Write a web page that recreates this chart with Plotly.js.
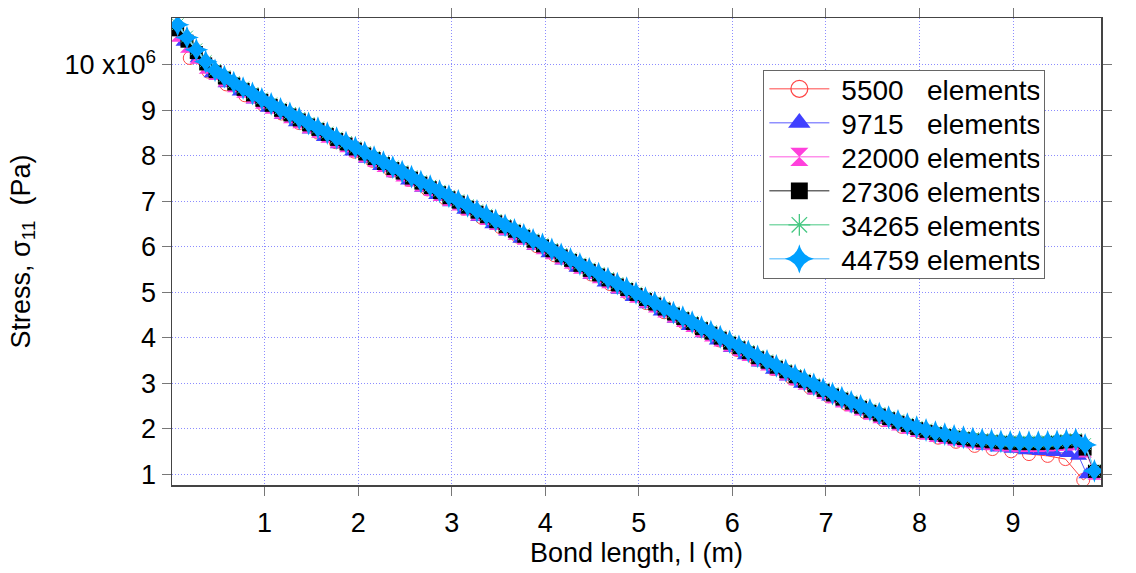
<!DOCTYPE html>
<html>
<head>
<meta charset="utf-8">
<script src="https://cdn.plot.ly/plotly-3.0.1.min.js"></script>
<style>
  html, body { margin: 0; padding: 0; background: #ffffff; }
  #chart { width: 1136px; height: 573px; }
</style>
</head>
<body>
<div id="chart"></div>
<script>
// Stress sigma_11 in units of 1e6 Pa, bond length in m

// shared x positions for the four finest meshes
const xFine = [
  0.07,0.17,0.27,0.37,0.47,0.57,0.67,0.77,0.87,0.97,
  1.07,1.17,1.27,1.37,1.47,1.57,1.67,1.77,1.87,1.97,
  2.07,2.17,2.27,2.37,2.47,2.57,2.67,2.77,2.87,2.97,
  3.07,3.17,3.27,3.37,3.47,3.57,3.67,3.77,3.87,3.97,
  4.07,4.17,4.27,4.37,4.47,4.57,4.67,4.77,4.87,4.97,
  5.07,5.17,5.27,5.37,5.47,5.57,5.67,5.77,5.87,5.97,
  6.07,6.17,6.27,6.37,6.47,6.57,6.67,6.77,6.87,6.97,
  7.07,7.17,7.27,7.37,7.47,7.57,7.67,7.77,7.87,7.97,
  8.07,8.17,8.27,8.37,8.47,8.57,8.67,8.77,8.87,8.97,
  9.07,9.17,9.27,9.37,9.47,9.57,9.67,9.77,9.87
];

const x5500 = [
  0.20,0.40,0.59,0.79,0.98,1.18,1.37,1.57,1.76,1.96,
  2.15,2.35,2.54,2.74,2.93,3.13,3.32,3.52,3.71,3.91,
  4.10,4.30,4.49,4.69,4.88,5.08,5.27,5.47,5.66,5.86,
  6.05,6.25,6.44,6.64,6.83,7.03,7.22,7.42,7.61,7.81,
  8.00,8.20,8.39,8.59,8.78,8.98,9.17,9.37,9.56,9.75,9.87
];
const y5500 = [
  10.15,9.85,9.57,9.33,9.13,8.93,8.72,8.51,8.30,8.09,
  7.89,7.67,7.47,7.26,7.06,6.84,6.64,6.43,6.22,6.01,
  5.81,5.60,5.39,5.18,4.98,4.76,4.56,4.35,4.15,3.94,
  3.73,3.52,3.31,3.10,2.90,2.71,2.54,2.36,2.19,2.04,
  1.92,1.80,1.71,1.62,1.55,1.50,1.44,1.40,1.33,0.87,1.06
];

const x9715 = [
  0.14,0.29,0.44,0.59,0.74,0.89,1.04,1.19,1.34,1.49,
  1.64,1.79,1.94,2.09,2.24,2.39,2.54,2.69,2.84,2.99,
  3.14,3.29,3.44,3.59,3.74,3.89,4.04,4.19,4.34,4.49,
  4.64,4.79,4.94,5.09,5.24,5.39,5.54,5.69,5.84,5.99,
  6.14,6.29,6.44,6.59,6.74,6.89,7.04,7.19,7.34,7.49,
  7.64,7.79,7.94,8.09,8.24,8.39,8.54,8.69,8.84,8.99,
  9.14,9.29,9.44,9.59,9.70,9.79
];
const y9715 = [
  10.50,10.14,9.81,9.59,9.41,9.23,9.05,8.89,8.73,8.57,
  8.41,8.25,8.09,7.93,7.77,7.61,7.45,7.29,7.13,6.97,
  6.81,6.65,6.49,6.33,6.17,6.01,5.85,5.69,5.53,5.37,
  5.21,5.05,4.89,4.73,4.57,4.41,4.25,4.09,3.93,3.77,
  3.61,3.45,3.29,3.14,2.98,2.84,2.70,2.57,2.44,2.31,
  2.19,2.08,1.97,1.88,1.80,1.73,1.67,1.62,1.58,1.55,
  1.52,1.50,1.48,1.46,1.40,0.99
];

const y22000 = [
  10.66,10.42,10.18,9.96,9.82,9.68,9.55,9.43,9.31,9.19,
  9.08,8.97,8.87,8.76,8.65,8.55,8.44,8.33,8.23,8.12,
  8.01,7.91,7.80,7.69,7.59,7.48,7.37,7.27,7.16,7.05,
  6.95,6.84,6.73,6.63,6.52,6.41,6.31,6.20,6.09,5.99,
  5.88,5.77,5.67,5.56,5.45,5.35,5.24,5.13,5.03,4.92,
  4.81,4.71,4.60,4.49,4.39,4.28,4.17,4.07,3.96,3.85,
  3.75,3.64,3.53,3.43,3.32,3.22,3.11,3.01,2.91,2.81,
  2.71,2.62,2.53,2.44,2.35,2.27,2.19,2.11,2.04,1.97,
  1.91,1.86,1.82,1.78,1.75,1.72,1.70,1.68,1.66,1.65,
  1.64,1.64,1.64,1.65,1.66,1.67,1.68,1.52,1.03
];

const y27306 = [
  10.77,10.52,10.27,10.02,9.85,9.71,9.58,9.46,9.34,9.22,
  9.11,9.00,8.90,8.79,8.68,8.58,8.47,8.36,8.26,8.15,
  8.04,7.94,7.83,7.72,7.62,7.51,7.40,7.30,7.19,7.08,
  6.98,6.87,6.76,6.66,6.55,6.44,6.34,6.23,6.12,6.02,
  5.91,5.80,5.70,5.59,5.48,5.38,5.27,5.16,5.06,4.95,
  4.84,4.74,4.63,4.52,4.42,4.31,4.20,4.10,3.99,3.88,
  3.78,3.67,3.56,3.46,3.35,3.25,3.14,3.04,2.94,2.84,
  2.74,2.65,2.56,2.47,2.38,2.30,2.22,2.14,2.07,2.00,
  1.94,1.89,1.85,1.81,1.78,1.75,1.73,1.71,1.69,1.68,
  1.67,1.67,1.67,1.68,1.69,1.71,1.73,1.55,1.06
];

const y34265 = [
  10.89,10.62,10.34,10.08,9.89,9.75,9.62,9.50,9.38,9.26,
  9.15,9.04,8.94,8.83,8.72,8.62,8.51,8.40,8.30,8.19,
  8.08,7.98,7.87,7.76,7.66,7.55,7.44,7.34,7.23,7.12,
  7.02,6.91,6.80,6.70,6.59,6.48,6.38,6.27,6.16,6.06,
  5.95,5.84,5.74,5.63,5.52,5.42,5.31,5.20,5.10,4.99,
  4.88,4.78,4.67,4.56,4.46,4.35,4.24,4.14,4.03,3.92,
  3.82,3.71,3.60,3.50,3.39,3.29,3.18,3.08,2.98,2.88,
  2.78,2.69,2.60,2.51,2.42,2.34,2.26,2.18,2.11,2.04,
  1.98,1.93,1.89,1.85,1.82,1.79,1.77,1.75,1.73,1.72,
  1.71,1.71,1.71,1.72,1.73,1.75,1.77,1.66,1.08
];

const y44759 = [
  10.88,10.60,10.33,10.07,9.88,9.74,9.61,9.49,9.37,9.25,
  9.14,9.03,8.93,8.82,8.71,8.61,8.50,8.39,8.29,8.18,
  8.07,7.97,7.86,7.75,7.65,7.54,7.43,7.33,7.22,7.11,
  7.01,6.90,6.79,6.69,6.58,6.47,6.37,6.26,6.15,6.05,
  5.94,5.83,5.73,5.62,5.51,5.41,5.30,5.19,5.09,4.98,
  4.87,4.77,4.66,4.55,4.45,4.34,4.23,4.13,4.02,3.91,
  3.81,3.70,3.59,3.49,3.38,3.28,3.17,3.07,2.97,2.87,
  2.77,2.68,2.59,2.50,2.41,2.33,2.25,2.17,2.10,2.03,
  1.97,1.92,1.88,1.84,1.81,1.78,1.76,1.74,1.72,1.71,
  1.70,1.70,1.70,1.71,1.72,1.74,1.76,1.64,1.07
];

const seriesNames = [
  "5500\u00a0\u00a0\u00a0elements",
  "9715\u00a0\u00a0\u00a0elements",
  "22000 elements",
  "27306 elements",
  "34265 elements",
  "44759 elements"
];

const xTickVals = [1,2,3,4,5,6,7,8,9];
const xTickText = ["1","2","3","4","5","6","7","8","9"];
const yTickVals = [1,2,3,4,5,6,7,8,9,10];
const yTickText = ["1","2","3","4","5","6","7","8","9","10 x10<sup>6</sup>"];

const FONT = "Arial, 'Liberation Sans', sans-serif";

const traces = [
  { x: x5500, y: y5500, name: seriesNames[0], mode: "lines+markers",
    line: { color: "rgb(255,70,70)", width: 1 },
    marker: { symbol: "circle-open", size: 13, color: "rgb(255,70,70)", line: { width: 1 } } },
  { x: x9715, y: y9715, name: seriesNames[1], mode: "lines+markers",
    line: { color: "rgb(90,90,255)", width: 1 },
    marker: { symbol: "triangle-up", size: 15, color: "rgb(64,64,255)" } },
  { x: xFine, y: y22000, name: seriesNames[2], mode: "lines+markers",
    line: { color: "rgb(255,90,225)", width: 1 },
    marker: { symbol: "hourglass", size: 14, color: "rgb(255,64,220)" } },
  { x: xFine, y: y27306, name: seriesNames[3], mode: "lines+markers",
    line: { color: "rgb(30,30,30)", width: 1 },
    marker: { symbol: "square", size: 13, color: "rgb(0,0,0)" } },
  { x: xFine, y: y34265, name: seriesNames[4], mode: "lines+markers",
    line: { color: "rgb(70,200,130)", width: 1 },
    marker: { symbol: "asterisk-open", size: 14, color: "rgb(70,200,130)", line: { width: 1, color: "rgb(70,200,130)" } } },
  { x: xFine, y: y44759, name: seriesNames[5], mode: "lines+markers",
    line: { color: "rgb(130,205,255)", width: 1.5 },
    marker: { symbol: "star-diamond", size: 17, color: "rgb(0,160,255)" } }
];

const layout = {
  width: 1136, height: 573,
  margin: { l: 172, r: 35, t: 18, b: 88 },
  paper_bgcolor: "#ffffff", plot_bgcolor: "#ffffff",
  font: { family: FONT, size: 26, color: "#000" },
  showlegend: true,
  legend: {
    x: 0.636, y: 0.889, xanchor: "left", yanchor: "top",
    bgcolor: "#ffffff", bordercolor: "#666", borderwidth: 1.5,
    font: { family: FONT, size: 28, color: "#000" },
    itemwidth: 60, tracegroupgap: 0
  },
  xaxis: {
    range: [0.01, 9.94],
    tickvals: xTickVals, ticktext: xTickText,
    ticks: "outside", ticklen: 9, tickcolor: "#777", tickwidth: 1,
    showline: true, linecolor: "#444", linewidth: 1.5, mirror: "allticks",
    showgrid: true, gridcolor: "rgb(140,140,255)", griddash: "1px,2px", gridwidth: 1,
    zeroline: false,
    tickfont: { family: FONT, size: 27, color: "#000" },
    ticklabelstandoff: 4,
    title: { text: "Bond length, l (m)", font: { family: FONT, size: 27, color: "#000" }, standoff: 6 }
  },
  yaxis: {
    range: [0.76, 11.03],
    tickvals: yTickVals, ticktext: yTickText,
    ticks: "outside", ticklen: 9, tickcolor: "#777", tickwidth: 1,
    showline: true, linecolor: "#444", linewidth: 1.5, mirror: "allticks",
    showgrid: true, gridcolor: "rgb(140,140,255)", griddash: "1px,2px", gridwidth: 1,
    zeroline: false,
    tickfont: { family: FONT, size: 27, color: "#000" },
    title: { text: "Stress, \u03c3<sub>11</sub>  (Pa)", font: { family: FONT, size: 27, color: "#000" }, standoff: 26 }
  }
};

Plotly.newPlot("chart", traces, layout, { displayModeBar: false, staticPlot: true }).then(function (gd) {
  // tighten legend rows and enlarge legend symbols to match the reference look
  var rowGap = 34, firstY = 19;
  var items = gd.querySelectorAll(".legend .traces");
  items.forEach(function (el, i) {
    var t = el.getAttribute("transform") || "";
    var m = /translate\(\s*([-\d.]+)[ ,]+([-\d.]+)\s*\)/.exec(t);
    var tx = m ? m[1] : 0;
    el.setAttribute("transform", "translate(" + tx + "," + (firstY + i * rowGap) + ")");
    var txt = el.querySelector(".legendtext");
    if (txt) {
      var x0 = parseFloat(txt.getAttribute("x") || "0");
      txt.setAttribute("x", x0 + 7);
    }
    el.querySelectorAll(".legendpoints path.scatterpts").forEach(function (p) {
      var pt = p.getAttribute("transform") || "";
      p.setAttribute("transform", pt + " scale(1.3)");
    });
  });
  var bg = gd.querySelector(".legend .bg");
  if (bg) {
    bg.setAttribute("height", firstY + 5 * rowGap + 19);
    bg.setAttribute("width", 281);
  }
});
</script>
</body>
</html>
